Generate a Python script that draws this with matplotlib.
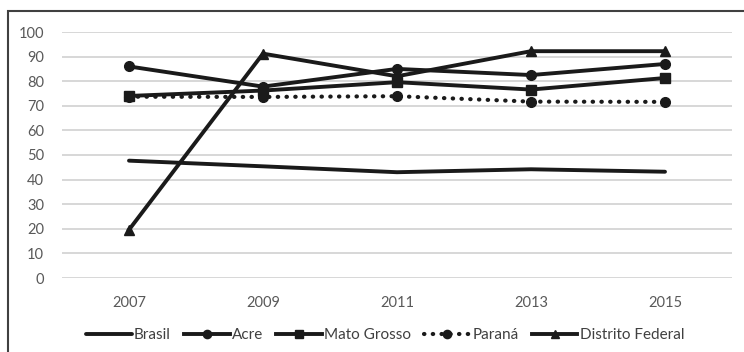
import matplotlib.pyplot as plt
from matplotlib.patches import Rectangle

plt.rcParams['font.family'] = ['Lato', 'DejaVu Sans']

years = ["2007", "2009", "2011", "2013", "2015"]
brasil = [47.7, 45.4, 43.0, 44.2, 43.2]
acre = [86.0, 77.8, 85.0, 82.5, 87.0]
mato_grosso = [74.0, 76.2, 79.6, 76.6, 81.3]
parana = [73.7, 73.6, 73.9, 71.7, 71.6]
distrito_federal = [19.6, 91.2, 82.0, 92.2, 92.2]

W, H = 744, 352
fig = plt.figure(figsize=(W / 100, H / 100), dpi=100)
ax = fig.add_axes([62 / W, (H - 278) / H, (732 - 62) / W, (278 - 32) / H])

ink = "#1a1a1a"
x = range(len(years))
ax.plot(x, brasil, color=ink, lw=2.8, label="Brasil", solid_capstyle="round")
ax.plot(x, acre, color=ink, lw=2.8, marker="o", ms=7, label="Acre")
ax.plot(x, mato_grosso, color=ink, lw=2.8, marker="s", ms=6.5, label="Mato Grosso")
ax.plot(x, parana, color=ink, lw=3, marker="o", ms=7, label="Paraná",
        linestyle=(0, (0.1, 2)), dash_capstyle="round")
ax.plot(x, distrito_federal, color=ink, lw=2.8, marker="^", ms=7.5, label="Distrito Federal")

ax.set_xlim(-0.5, 4.5)
ax.set_ylim(0, 100)
ax.set_yticks(range(0, 101, 10))
ax.set_xticks(list(x))
ax.set_xticklabels(years)
ax.tick_params(length=0, labelsize=10.5, colors="#595959")
ax.tick_params(axis="x", pad=13)
ax.tick_params(axis="y", pad=13)
ax.yaxis.grid(True, color="#d4d4d4", lw=1.3)
ax.set_axisbelow(True)
for s in ax.spines.values():
    s.set_visible(False)

leg = fig.legend(loc="center", bbox_to_anchor=(385 / W, (H - 335) / H), ncol=5,
                 frameon=False, fontsize=11, handlelength=3.0, columnspacing=0.85,
                 handletextpad=0.15, borderaxespad=0, markerscale=0.85)
for t in leg.get_texts():
    t.set_color("#404040")

# outer frame, cut by the right and bottom edges
fig.patches.append(Rectangle((8 / W, -0.1), 1.2, (H - 11) / H + 0.1,
                             transform=fig.transFigure, fill=False,
                             edgecolor="#404040", lw=1.5))

fig.savefig("out.png", dpi=100)
